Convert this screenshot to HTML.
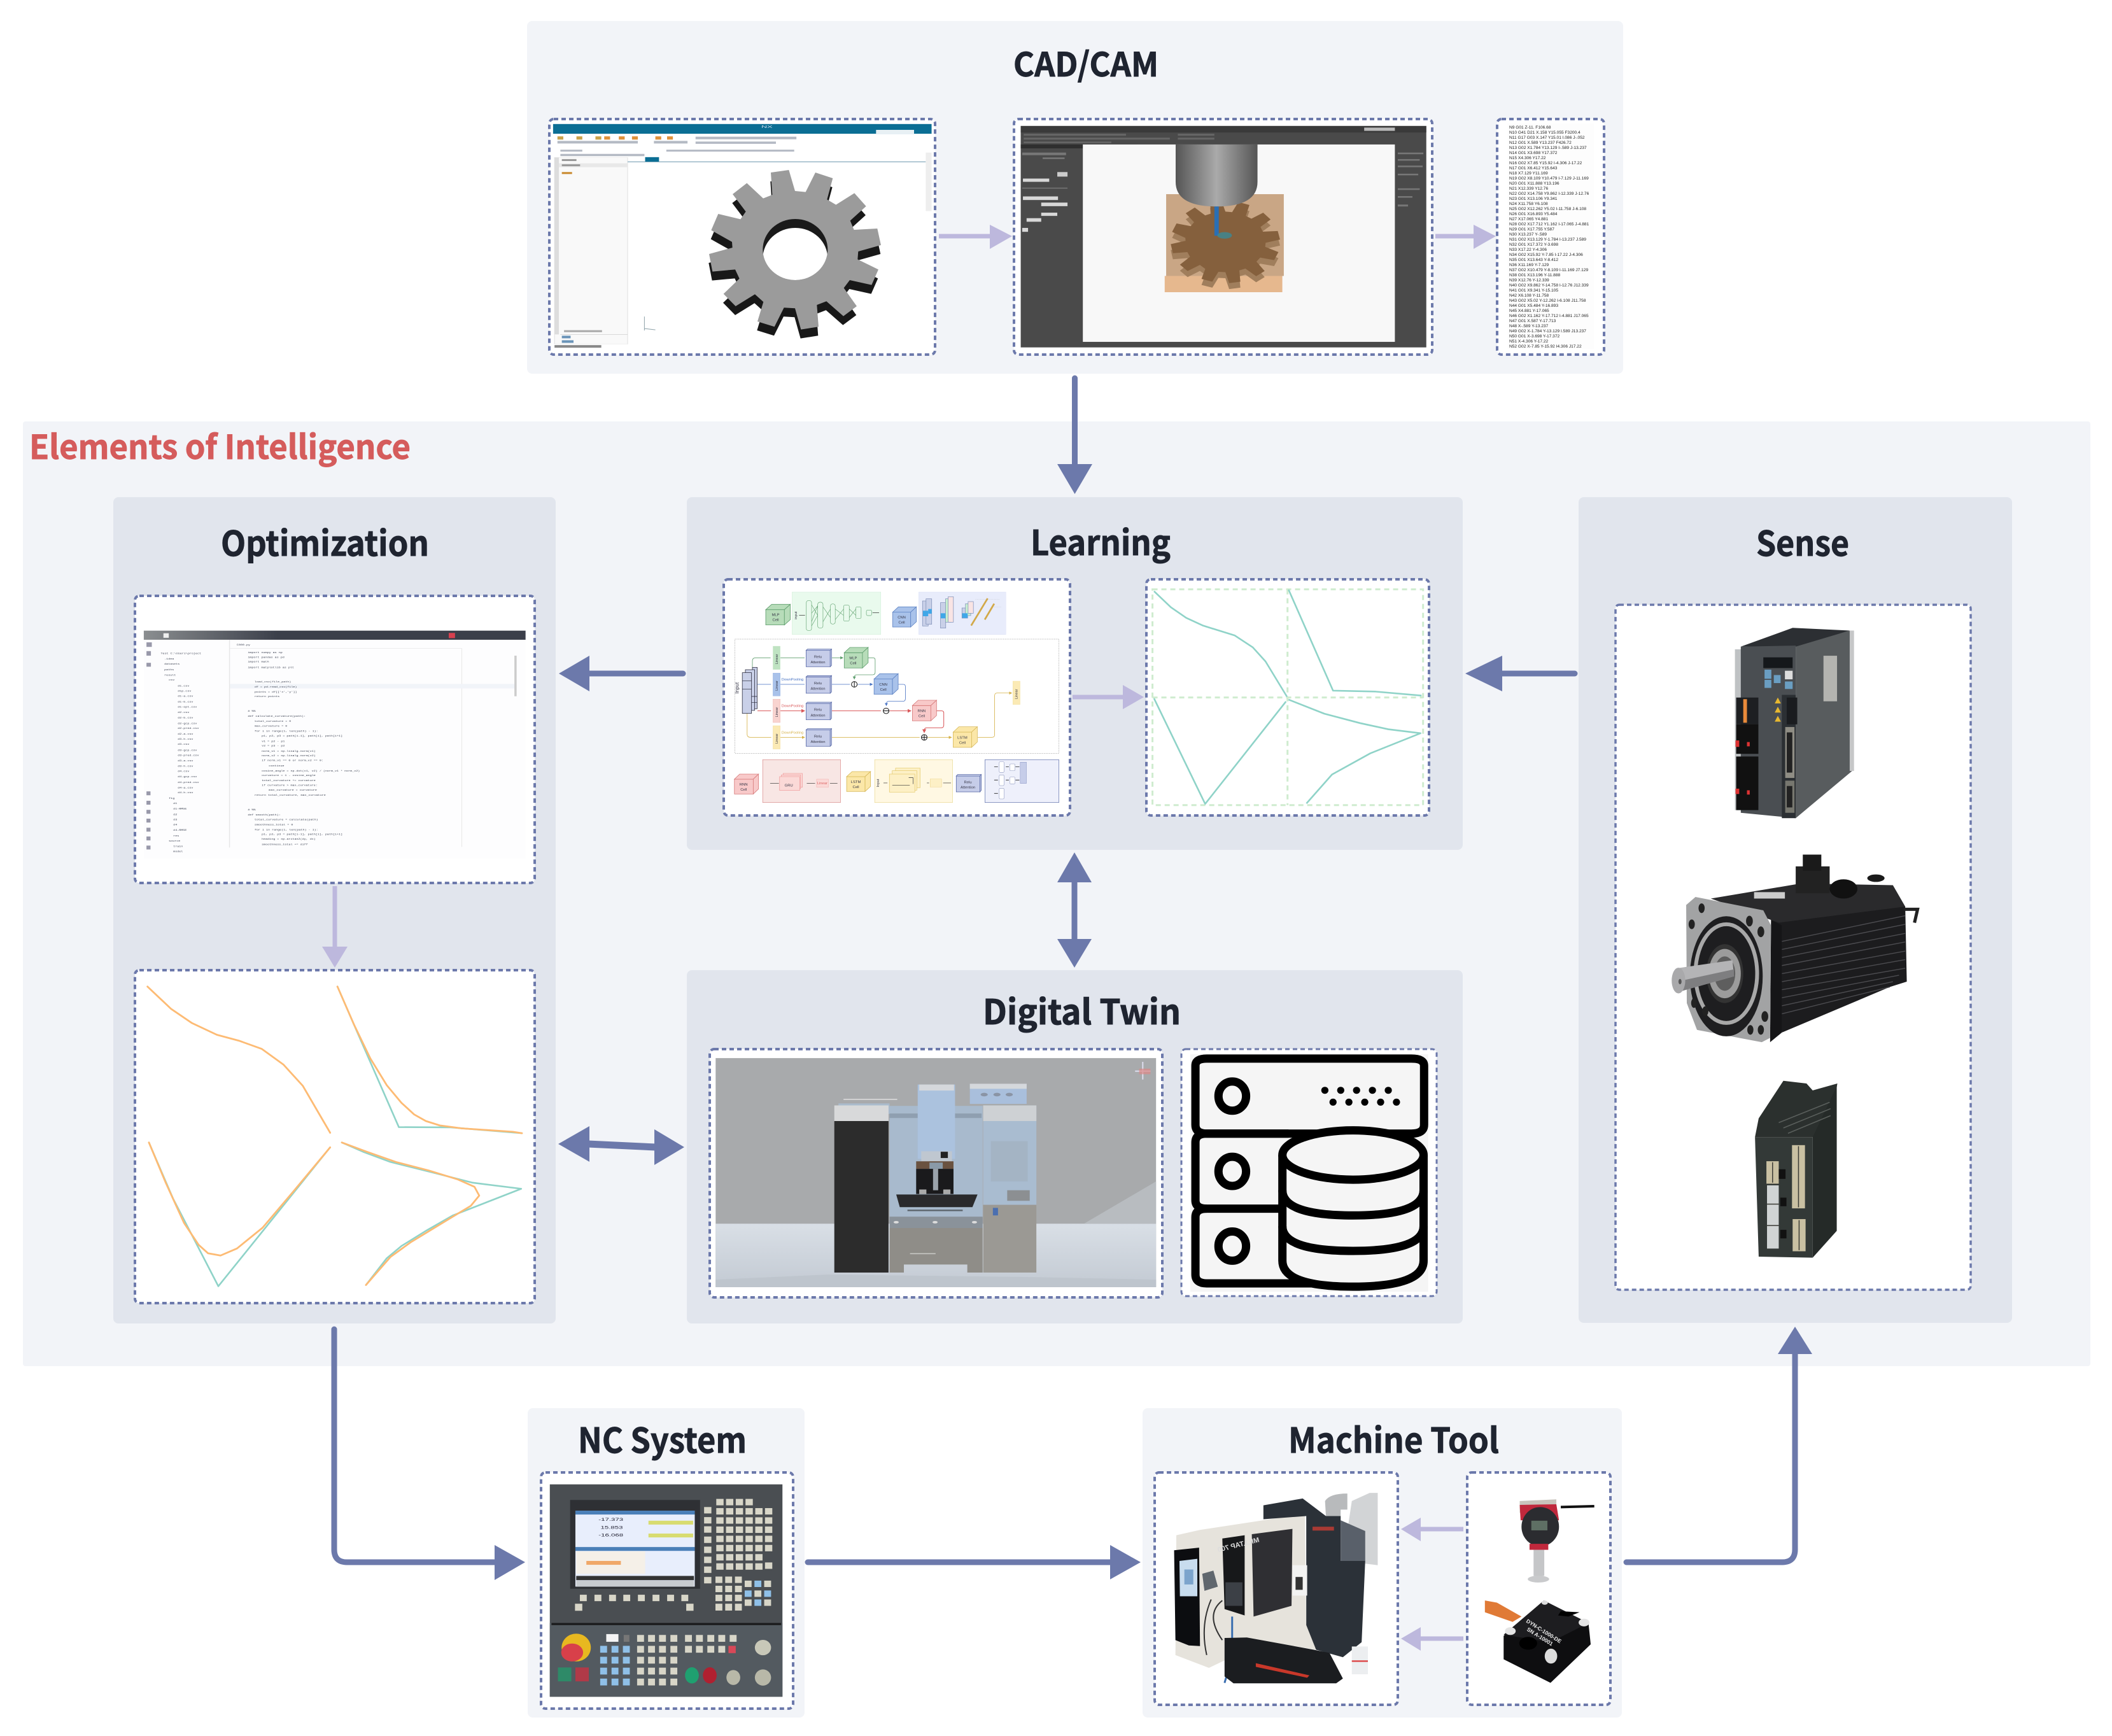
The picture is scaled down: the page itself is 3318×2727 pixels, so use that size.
<!DOCTYPE html>
<html><head><meta charset="utf-8"><title>Elements of Intelligence</title>
<style>
html,body{margin:0;padding:0;background:#fff}
svg{display:block}
.t{font-family:"Noto Sans CJK SC","Liberation Sans",sans-serif;font-weight:700;fill:#1f2430;stroke:#1f2430;stroke-width:.9}
.d{fill:#fff;stroke:#6c79ab;stroke-width:4;stroke-dasharray:7 5}
.ns{vector-effect:non-scaling-stroke}
.g{font-family:"Liberation Sans",sans-serif;font-size:6.6px;fill:#222}
.c{font-family:"Liberation Mono",monospace;font-size:7.2px;fill:#3a4050}
.n{font-family:"Liberation Sans",sans-serif;font-size:17px;fill:#334;text-anchor:middle}
.a{stroke:#6c79ab;stroke-width:9;fill:none;stroke-linecap:round;stroke-linejoin:round}
.l{stroke:#bdb8dd;stroke-width:7;fill:none}
.af{fill:#6c79ab}.lf{fill:#bdb8dd}
</style></head><body>
<svg xmlns="http://www.w3.org/2000/svg" width="3318" height="2727" viewBox="0 0 3318 2727">
<defs>
<polygon id="gear" points="363,78 448,66 477,165 527,170 573,78 655,105 628,205 670,230 757,175 812,237 737,305 755,348 865,342 882,420 775,450 772,487 870,535 838,608 735,585 707,622 768,708 705,755 625,685 580,702 588,805 505,818 477,718 425,715 380,805 300,780 328,688 288,652 197,708 140,650 215,578 195,535 88,545 72,462 182,432 180,405 82,350 115,273 220,298 245,262 183,180 250,128 327,200 370,183"/>
<clipPath id="hole"><ellipse cx="478" cy="441" rx="153" ry="144"/></clipPath>
<linearGradient id="tool" x1="0" x2="1" y1="0" y2="0"><stop offset="0" stop-color="#555"/><stop offset=".5" stop-color="#aaa"/><stop offset="1" stop-color="#555"/></linearGradient>
<linearGradient id="floor" x1="0" x2="0" y1="0" y2="1"><stop offset="0" stop-color="#d9dfe6"/><stop offset="1" stop-color="#c3cad3"/></linearGradient>
<linearGradient id="bar" x1="0" x2="1" y1="0" y2="0"><stop offset="0" stop-color="#8b8e90"/><stop offset=".35" stop-color="#3b3f4a"/><stop offset="1" stop-color="#3b3f4a"/></linearGradient>
<marker id="mg" markerWidth="6" markerHeight="6" refX="5" refY="3" orient="auto"><path d="M0,0L6,3L0,6z" fill="#5f9e6e"/></marker>
<marker id="mb" markerWidth="6" markerHeight="6" refX="5" refY="3" orient="auto"><path d="M0,0L6,3L0,6z" fill="#4a74c4"/></marker>
<marker id="mr" markerWidth="6" markerHeight="6" refX="5" refY="3" orient="auto"><path d="M0,0L6,3L0,6z" fill="#d9585a"/></marker>
<marker id="my" markerWidth="6" markerHeight="6" refX="5" refY="3" orient="auto"><path d="M0,0L6,3L0,6z" fill="#d6b24a"/></marker>
</defs>
<rect width="3318" height="2727" fill="#fff"/>

<!-- Panels -->
<rect x="828" y="33" width="1722" height="554" rx="8" fill="#f2f4f8"/>
<rect x="36" y="662" width="3248" height="1484" rx="4" fill="#f2f4f8"/>
<rect x="178" y="781" width="695" height="1298" rx="8" fill="#e1e5ed"/>
<rect x="1079" y="781" width="1219" height="554" rx="8" fill="#e1e5ed"/>
<rect x="1079" y="1524" width="1219" height="555" rx="8" fill="#e1e5ed"/>
<rect x="2480" y="781" width="681" height="1297" rx="8" fill="#e1e5ed"/>
<rect x="829" y="2212" width="435" height="486" rx="8" fill="#f2f4f8"/>
<rect x="1795" y="2212" width="753" height="486" rx="8" fill="#f2f4f8"/>

<!-- Titles -->
<text class="t" x="1592" y="120" font-size="52" textLength="228" lengthAdjust="spacingAndGlyphs">CAD/CAM</text>
<text class="t" x="46" y="721" font-size="52" textLength="599" lengthAdjust="spacingAndGlyphs" style="fill:#d55c5c;stroke:#d55c5c">Elements of Intelligence</text>
<text class="t" x="347" y="873" font-size="54" textLength="327" lengthAdjust="spacingAndGlyphs">Optimization</text>
<text class="t" x="1619" y="872" font-size="54" textLength="220" lengthAdjust="spacingAndGlyphs">Learning</text>
<text class="t" x="1544" y="1609" font-size="54" textLength="311" lengthAdjust="spacingAndGlyphs">Digital Twin</text>
<text class="t" x="2759" y="873" font-size="54" textLength="146" lengthAdjust="spacingAndGlyphs">Sense</text>
<text class="t" x="908" y="2282" font-size="54" textLength="265" lengthAdjust="spacingAndGlyphs">NC System</text>
<text class="t" x="2024" y="2282" font-size="54" textLength="331" lengthAdjust="spacingAndGlyphs">Machine Tool</text>

<!-- Dashed boxes -->
<rect class="d" x="863" y="187" width="606" height="370" rx="7"/>
<rect class="d" x="1593" y="187" width="657" height="370" rx="7"/>
<rect class="d" x="2352" y="187" width="168" height="370" rx="7"/>
<rect class="d" x="212" y="936" width="628" height="451" rx="7"/>
<rect class="d" x="212" y="1524" width="628" height="523" rx="7"/>
<rect class="d" x="1137" y="910" width="544" height="371" rx="7"/>
<rect class="d" x="1801" y="910" width="444" height="371" rx="7"/>
<rect class="d" x="1115" y="1648" width="711" height="390" rx="7"/>
<rect class="d" x="1856" y="1648" width="401" height="388" rx="7" style="stroke-width:3"/>
<rect class="d" x="2538" y="950" width="558" height="1076" rx="6" style="stroke-width:3.5"/>
<rect class="d" x="850" y="2313" width="396" height="371" rx="7"/>
<rect class="d" x="1814" y="2313" width="382" height="365" rx="7"/>
<rect class="d" x="2305" y="2313" width="225" height="365" rx="7"/>

<!-- CAD screenshot -->
<g transform="translate(800,0) scale(1.148,.51)">
<rect x="60" y="382" width="518" height="30" fill="#0b6e94"/>
<rect x="502" y="400" width="52" height="12" fill="#e8f0f4"/>
<g fill="#c9a24a"><rect x="66" y="420" width="8" height="10"/><rect x="92" y="420" width="8" height="10"/><rect x="118" y="420" width="8" height="10"/></g>
<g fill="#e0913a"><rect x="130" y="420" width="8" height="10"/><rect x="150" y="420" width="8" height="10"/><rect x="168" y="420" width="8" height="10"/><rect x="200" y="420" width="8" height="10"/><rect x="216" y="420" width="8" height="10"/></g>
<g fill="#b4bac4"><rect x="66" y="434" width="110" height="8"/><rect x="198" y="434" width="46" height="8"/><rect x="255" y="421" width="138" height="8"/><rect x="255" y="436" width="110" height="7"/><rect x="70" y="461" width="30" height="6"/><rect x="215" y="461" width="175" height="6"/><rect x="70" y="474" width="115" height="7"/></g>
<rect x="62" y="485" width="100" height="575" fill="#f9f9f9" stroke="#e4e4e4"/>
<rect x="62" y="503" width="100" height="12" fill="#e8e8e8"/>
<rect x="62" y="485" width="6" height="545" fill="#ddd"/>
<rect x="72" y="490" width="20" height="6" fill="#999"/><rect x="72" y="506" width="25" height="6" fill="#999"/><rect x="72" y="530" width="14" height="6" fill="#c98a2e"/>
<rect x="162" y="497" width="408" height="3" fill="#9bb9c8"/>
<rect x="186" y="484" width="19" height="14" fill="#0b6e94"/>
<rect x="75" y="1017" width="52" height="6" fill="#aaa"/>
<rect x="70" y="1030" width="92" height="1" fill="#bbb"/>
<rect x="72" y="1034" width="12" height="8" fill="#6a94b8"/><rect x="72" y="1048" width="16" height="8" fill="#6a94b8"/>
<rect x="62" y="1063" width="64" height="8" fill="#888"/>
<rect x="570" y="470" width="8" height="180" fill="#eee"/>
<path class="ns" d="M185,975V1018M185,1012L200,1016" stroke="#8ca0a8" stroke-width="1" fill="none"/>
<text x="345" y="394" font-size="11" fill="#cde" font-family="Liberation Sans,sans-serif">NX</text>
</g>
<g transform="translate(1090,245) scale(.3333)">
<use href="#gear" transform="translate(-2,42)" fill="#181818"/>
<use href="#gear" fill="#9b9b9b"/>
<ellipse cx="478" cy="441" rx="153" ry="144" fill="#1a1a1a"/>
<ellipse cx="478" cy="483" rx="153" ry="144" fill="#fff" clip-path="url(#hole)"/>
</g>

<!-- CAM screenshot -->
<g transform="translate(800,0) scale(1.148,.51)">
<rect x="700" y="388" width="555" height="682" fill="#4a4a4a"/>
<rect x="700" y="388" width="555" height="20" fill="#3a3a3a"/>
<rect x="700" y="445" width="160" height="12" fill="#2f2f2f"/>
<rect x="1170" y="393" width="42" height="10" fill="#bbb"/>
<g fill="#666"><rect x="704" y="412" width="140" height="6"/><rect x="704" y="424" width="200" height="6"/><rect x="704" y="436" width="120" height="5"/><rect x="915" y="412" width="50" height="6"/><rect x="915" y="424" width="50" height="6"/></g>
<rect x="785" y="445" width="427" height="608" fill="#f8f8f8"/>
<g fill="#777"><rect x="702" y="470" width="60" height="8"/><rect x="702" y="578" width="62" height="3"/><rect x="730" y="485" width="30" height="5"/><rect x="750" y="530" width="14" height="14" fill="#ccc"/></g>
<g fill="#d8d8d8"><rect x="703" y="550" width="36" height="10"/><rect x="703" y="605" width="48" height="11"/><rect x="728" y="624" width="36" height="11"/><rect x="728" y="655" width="22" height="10"/><rect x="708" y="672" width="20" height="11"/><rect x="702" y="702" width="8" height="12"/></g>
<g fill="#777"><rect x="1216" y="470" width="35" height="5"/><rect x="1216" y="490" width="30" height="5"/><rect x="1216" y="510" width="34" height="5"/><rect x="1216" y="535" width="28" height="5"/><rect x="1216" y="580" width="30" height="5"/><rect x="1216" y="604" width="20" height="5"/><rect x="1216" y="630" width="14" height="6"/></g>
<rect x="899" y="598" width="161" height="252" fill="#c9a685"/>
<rect x="897" y="850" width="161" height="50" fill="#e6b88e"/>
</g>
<g transform="translate(1824,304) scale(.212,.172)">
<use href="#gear" transform="translate(0,55)" fill="#a07e5c"/>
<use href="#gear" fill="#85603d"/>
</g>
<g transform="translate(800,0) scale(1.148,.51)">
<path d="M912,445H1024V560Q1024,636 968,636Q912,636 912,560Z" fill="url(#tool)"/>
<rect x="965" y="636" width="6" height="90" fill="#2a6fb5"/>
<circle cx="979" cy="725" r="10" fill="#3a8a96" opacity=".8"/>
</g>

<!-- G code -->
<rect x="2368" y="194" width="136" height="354" fill="#fdfdfd"/>
<g class="g">
<text x="2371" y="202">N9 G01 Z-11. F106.68</text>
<text x="2371" y="210">N10 G41 D21 X.158 Y15.055 F3200.4</text>
<text x="2371" y="218">N11 G17 G03 X.147 Y15.01 I.086 J-.052</text>
<text x="2371" y="226">N12 G01 X.589 Y13.237 F426.72</text>
<text x="2371" y="234">N13 G02 X1.784 Y13.129 I-.589 J-13.237</text>
<text x="2371" y="242">N14 G01 X3.698 Y17.372</text>
<text x="2371" y="250">N15 X4.306 Y17.22</text>
<text x="2371" y="258">N16 G02 X7.85 Y15.92 I-4.306 J-17.22</text>
<text x="2371" y="266">N17 G01 X6.412 Y15.643</text>
<text x="2371" y="274">N18 X7.129 Y11.169</text>
<text x="2371" y="282">N19 G02 X8.109 Y10.479 I-7.129 J-11.169</text>
<text x="2371" y="290">N20 G01 X11.888 Y13.196</text>
<text x="2371" y="298">N21 X12.339 Y12.76</text>
<text x="2371" y="306">N22 G02 X14.758 Y9.862 I-12.339 J-12.76</text>
<text x="2371" y="314">N23 G01 X13.106 Y9.341</text>
<text x="2371" y="322">N24 X11.758 Y6.108</text>
<text x="2371" y="330">N25 G02 X12.262 Y5.02 I-11.758 J-6.108</text>
<text x="2371" y="338">N26 G01 X16.893 Y5.484</text>
<text x="2371" y="346">N27 X17.065 Y4.881</text>
<text x="2371" y="354">N28 G02 X17.712 Y1.162 I-17.065 J-4.881</text>
<text x="2371" y="362">N29 G01 X17.755 Y.587</text>
<text x="2371" y="370">N30 X13.237 Y-.589</text>
<text x="2371" y="378">N31 G02 X13.129 Y-1.784 I-13.237 J.589</text>
<text x="2371" y="386">N32 G01 X17.372 Y-3.698</text>
<text x="2371" y="394">N33 X17.22 Y-4.306</text>
<text x="2371" y="402">N34 G02 X15.92 Y-7.85 I-17.22 J-4.306</text>
<text x="2371" y="410">N35 G01 X13.643 Y-8.412</text>
<text x="2371" y="418">N36 X11.169 Y-7.129</text>
<text x="2371" y="426">N37 G02 X10.479 Y-8.109 I-11.169 J7.129</text>
<text x="2371" y="434">N38 G01 X13.196 Y-11.888</text>
<text x="2371" y="442">N39 X12.76 Y-12.339</text>
<text x="2371" y="450">N40 G02 X9.862 Y-14.758 I-12.76 J12.339</text>
<text x="2371" y="458">N41 G01 X9.341 Y-15.105</text>
<text x="2371" y="466">N42 X6.108 Y-11.758</text>
<text x="2371" y="474">N43 G02 X5.02 Y-12.262 I-6.108 J11.758</text>
<text x="2371" y="482">N44 G01 X5.484 Y-16.893</text>
<text x="2371" y="490">N45 X4.881 Y-17.065</text>
<text x="2371" y="498">N46 G02 X1.162 Y-17.712 I-4.881 J17.065</text>
<text x="2371" y="506">N47 G01 X.587 Y-17.713</text>
<text x="2371" y="514">N48 X-.589 Y-13.237</text>
<text x="2371" y="522">N49 G02 X-1.784 Y-13.129 I.589 J13.237</text>
<text x="2371" y="530">N50 G01 X-3.698 Y-17.372</text>
<text x="2371" y="538">N51 X-4.306 Y-17.22</text>
<text x="2371" y="546">N52 G02 X-7.85 Y-15.92 I4.306 J17.22</text>
</g>

<!-- IDE screenshot -->
<g transform="translate(0,650) scale(.7015,.51)">
<rect x="322" y="668" width="855" height="702" fill="#fdfdfe"/>
<rect x="322" y="668" width="855" height="28" fill="url(#bar)"/>
<rect x="366" y="676" width="12" height="14" fill="#eee"/>
<rect x="1005" y="675" width="14" height="16" fill="#d8404f"/>
<rect x="515" y="722" width="520" height="1" fill="#ddd"/><rect x="1034" y="724" width="1" height="610" fill="#ddd"/>
<rect x="515" y="832" width="640" height="14" fill="#f1f4f9"/>
<rect x="1152" y="745" width="5" height="125" fill="#ccc"/>
<rect x="513" y="696" width="2" height="640" fill="#e6e6e6"/>
<g fill="#99a">
<rect x="328" y="704" width="12" height="14"/><rect x="328" y="731" width="10" height="14"/><rect x="328" y="767" width="10" height="12"/><rect x="328" y="1163" width="9" height="12"/><rect x="328" y="1192" width="9" height="12"/><rect x="328" y="1220" width="9" height="12"/><rect x="328" y="1247" width="9" height="12"/><rect x="328" y="1275" width="9" height="12"/><rect x="328" y="1302" width="9" height="12"/><rect x="328" y="1330" width="9" height="12"/>
</g>
<g class="c">
<text x="360" y="740">Test C:\Users\project</text><text x="368" y="757">.idea</text><text x="368" y="773">datasets</text><text x="368" y="790">paths</text><text x="368" y="807">result</text><text x="378" y="822">csv</text>
<text x="398" y="840">d1.csv</text><text x="398" y="856">d1p.csv</text><text x="398" y="872">d1-a.csv</text><text x="398" y="889">d1-b.csv</text><text x="398" y="905">d1-opt.csv</text><text x="398" y="922">d2.csv</text><text x="398" y="938">d2-b.csv</text><text x="398" y="956">d2-gcp.csv</text><text x="398" y="971">d2-pred.csv</text><text x="398" y="988">d2-a.csv</text><text x="398" y="1004">d3-h.csv</text><text x="398" y="1020">d3.csv</text><text x="398" y="1038">d3-gcp.csv</text><text x="398" y="1054">d3-pred.csv</text><text x="398" y="1071">d3-a.csv</text><text x="398" y="1087">d3-h.csv</text><text x="398" y="1103">d4.csv</text><text x="398" y="1120">d4-gcp.csv</text><text x="398" y="1137">d4-pred.csv</text><text x="398" y="1154">d4-a.csv</text><text x="398" y="1169">d4-h.csv</text>
<text x="378" y="1186">fig</text><text x="388" y="1202">d1</text><text x="388" y="1219">d1-RMSE</text><text x="388" y="1236">d2</text><text x="388" y="1252">d3</text><text x="388" y="1268">d4</text><text x="388" y="1284">d4-RMSE</text><text x="388" y="1302">res</text><text x="378" y="1318">source</text><text x="388" y="1334">train</text><text x="388" y="1350">model</text>
<text x="530" y="714">C000.py</text>
<text x="555" y="737">import numpy as np</text><text x="555" y="752">import pandas as pd</text><text x="555" y="766">import math</text><text x="555" y="783">import matplotlib as plt</text>
<text x="570" y="827">load_csv(file_path)</text><text x="570" y="843">df = pd.read_csv(file)</text><text x="570" y="859">points = df[['x','y']]</text><text x="570" y="873">return points</text>
<text x="555" y="918"># %%</text><text x="555" y="933">def calculate_curvature(path):</text><text x="570" y="949">total_curvature = 0</text><text x="570" y="964">max_curvature = 0</text><text x="570" y="979">for i in range(1, len(path) - 1):</text><text x="586" y="994">p1, p2, p3 = path[i-1], path[i], path[i+1]</text><text x="586" y="1011">v1 = p2 - p1</text><text x="586" y="1025">v2 = p3 - p2</text><text x="586" y="1041">norm_v1 = np.linalg.norm(v1)</text><text x="586" y="1055">norm_v2 = np.linalg.norm(v2)</text><text x="586" y="1070">if norm_v1 == 0 or norm_v2 == 0:</text><text x="602" y="1086">continue</text><text x="586" y="1102">cosine_angle = np.dot(v1, v2) / (norm_v1 * norm_v2)</text><text x="586" y="1116">curvature = 1 - cosine_angle</text><text x="586" y="1131">total_curvature += curvature</text><text x="586" y="1146">if curvature &gt; max_curvature:</text><text x="602" y="1161">max_curvature = curvature</text><text x="570" y="1176">return total_curvature, max_curvature</text>
<text x="555" y="1222"># %%</text><text x="555" y="1237">def smooth(path):</text><text x="570" y="1252">total_curvature = calculate(path)</text><text x="570" y="1268">smoothness_total = 0</text><text x="570" y="1283">for i in range(1, len(path) - 1):</text><text x="586" y="1297">p1, p2, p3 = path[i-1], path[i], path[i+1]</text><text x="586" y="1312">heading = np.arctan2(dy, dx)</text><text x="586" y="1328">smoothness_total += diff</text>
</g>
</g>

<!-- Optimized path chart -->
<g transform="translate(180,1500) scale(.574,.3827)" fill="none" stroke-linejoin="round" stroke-linecap="round">
<g stroke="#8fd3c8" stroke-width="2.6">
<polyline class="ns" points="610,130 665,320 778,707 920,708 1115,732"/>
<polyline class="ns" points="94,770 160,1000 284,1360 590,790"/>
<polyline class="ns" points="622,770 680,808 755,850 870,893 980,935 1113,960 925,1070 855,1130 785,1195 745,1245 688,1355"/>
</g>
<g stroke="#fdbb74" stroke-width="2.8">
<polyline class="ns" points="90,130 155,222 212,280 280,328 340,352 403,386 462,450 515,537 590,730"/>
<polyline class="ns" points="610,130 655,285 700,425 745,535 785,607 820,655 852,682 890,700 950,712 1090,726 1115,732"/>
<polyline class="ns" points="94,770 140,935 190,1100 230,1190 256,1225 290,1234 335,1205 405,1120 490,970 590,790"/>
<polyline class="ns" points="622,770 690,808 770,850 860,885 940,922 985,952 998,988 975,1030 925,1075 810,1180 755,1240 688,1355"/>
</g>
</g>

<!-- Learning chart -->
<g transform="translate(1060,780) scale(.8036,.37)" fill="none">
<g stroke="#cfeccf" stroke-width="3" stroke-dasharray="8 6">
<rect class="ns" x="934" y="394" width="529" height="916"/>
<line class="ns" x1="1198" y1="394" x2="1198" y2="1310"/>
<line class="ns" x1="934" y1="853" x2="1463" y2="853"/>
</g>
<g stroke="#8fd3c8" stroke-width="2.6" stroke-linejoin="round">
<polyline class="ns" points="937,402 970,470 1000,515 1033,548 1095,590 1130,640 1155,700 1197,850"/>
<polyline class="ns" points="1200,395 1287,824 1370,828 1460,845"/>
<polyline class="ns" points="937,857 1037,1305 1195,870"/>
<polyline class="ns" points="1200,862 1270,922 1340,962 1395,988 1458,1005 1360,1090 1285,1180 1235,1303"/>
</g>
</g>

<!-- Network diagram -->
<g transform="translate(1140,920) scale(.3444,.3333)">
<rect x="303" y="30" width="405" height="200" fill="#e9faed" stroke="#bfe6c8"/>
<rect x="881" y="30" width="397" height="200" fill="#e8ecfb" stroke="#cdd4f2"/>
<g fill="none" stroke="#6aa878" stroke-width="2">
<rect x="368" y="70" width="24" height="142" rx="10"/><rect x="420" y="78" width="24" height="122" rx="10"/><rect x="478" y="86" width="22" height="95" rx="10"/><rect x="538" y="92" width="26" height="75" rx="6"/><rect x="594" y="100" width="24" height="55" rx="6"/><rect x="642" y="115" width="24" height="26" rx="6"/>
<path d="M392,90L420,140L392,190M392,130L420,95L392,170M444,100L478,150M444,170L478,110M500,110L538,140M500,160L538,110M564,110L594,140M564,150L594,110"/>
</g>
<path d="M335,140H362M670,127H700" stroke="#111" stroke-width="2" fill="none"/>
<text class="n" x="325" y="140" transform="rotate(-90 325 140)">input</text>
<g fill="none" stroke="#7a8bb4" stroke-width="2">
<rect x="898" y="72" width="26" height="118" fill="#c9d0e8"/><rect x="914" y="62" width="26" height="120" fill="#c9d0e8"/>
<rect x="980" y="80" width="24" height="120" fill="#c9d0e8"/><rect x="1003" y="62" width="26" height="110" fill="#c9f0d0"/><rect x="1015" y="52" width="24" height="120" fill="#f9e4e4"/>
<rect x="1078" y="105" width="26" height="48" fill="#c9d0e8"/><rect x="1094" y="85" width="24" height="56" fill="#c9f0d0"/><rect x="1106" y="75" width="24" height="55" fill="#f9e4e4"/>
</g>
<g fill="#3fa7e8"><rect x="900" y="118" width="24" height="26"/><rect x="924" y="110" width="16" height="22"/><rect x="981" y="130" width="22" height="24"/><rect x="1079" y="130" width="25" height="22"/></g>
<path d="M1120,188L1195,60M1182,160L1225,85" stroke="#d2a94a" stroke-width="8"/>
<path d="M1140,65H1250M1225,100L1260,100" stroke="#aaa" stroke-dasharray="3 4" fill="none"/>

<rect x="42" y="252" width="1478" height="538" fill="#fff" stroke="#666" stroke-width="1.4" stroke-dasharray="4 4"/>

<g stroke-width="2.4" fill="none">
<path d="M122,385V355Q122,340 137,340H205M250,340H360M485,340H535" stroke="#5f9e6e" marker-end="url(#mg)"/>
<path d="M650,340H672Q682,340 682,350V408Q682,420 670,420H598Q587,420 587,432V440" stroke="#5f9e6e" marker-end="url(#mg)"/>
<path d="M145,465H207M250,465H360M485,465H567M603,465H670" stroke="#4a74c4" marker-end="url(#mb)"/>
<path d="M786,465H810Q820,465 820,475V533Q820,545 808,545H745Q733,545 733,557V565" stroke="#4a74c4" marker-end="url(#mb)"/>
<path d="M145,590H207M250,590H360" stroke="#d9585a" stroke-width="3" marker-end="url(#mr)"/>
<path d="M485,590H708M748,590H845" stroke="#d9585a" stroke-width="3" marker-end="url(#mr)"/>
<path d="M960,590H985Q995,590 995,600V658Q995,670 983,670H918Q906,670 906,682V692" stroke="#d9585a" stroke-width="3" marker-end="url(#mr)"/>
<path d="M98,603V700Q98,715 113,715H208M250,715H360" stroke="#d6b24a" marker-end="url(#my)"/>
<path d="M485,715H885M922,715H1030" stroke="#d6b24a" marker-end="url(#my)"/>
<path d="M1150,715H1215Q1227,715 1227,703V518Q1227,506 1239,506H1305" stroke="#d6b24a" marker-end="url(#my)"/>
</g>
<g stroke="#111" stroke-width="3" fill="#fff">
<circle cx="587" cy="465" r="13"/><circle cx="732" cy="590" r="13"/><circle cx="906" cy="715" r="13"/>
<path d="M587,452V478M719,590H745M893,715H919M906,702V728" fill="none"/>
</g>
<g stroke="#223" stroke-width="2.2"><rect x="122" y="385" width="22" height="195" fill="#c9d0e8"/><rect x="90" y="396" width="42" height="192" fill="#c9d0e8"/><rect x="76" y="410" width="42" height="192" fill="#c9d0e8"/><path d="M76,448H118M76,487H118M118,522H144M118,550H144" fill="none"/></g>
<text class="n" x="60" y="482" style="font-size:24px" transform="rotate(-90 60 482)">Input</text>
<rect x="216" y="285" width="33" height="110" fill="#bfe3c2" stroke="#cfeacf"/>
<rect x="216" y="412" width="33" height="108" fill="#a9c2ea" stroke="#88a8dd"/>
<rect x="216" y="535" width="33" height="110" fill="#f9d4d0" stroke="#e8a8a4"/>
<rect x="216" y="660" width="33" height="110" fill="#fbeab5" stroke="#eedb90"/>
<rect x="1310" y="450" width="33" height="110" fill="#fbeab5" stroke="#eedb90"/>
<g class="n"><text x="232" y="340" transform="rotate(-90 238 340)">Linear</text><text x="232" y="465" transform="rotate(-90 238 465)">Linear</text><text x="232" y="590" transform="rotate(-90 238 590)">Linear</text><text x="232" y="715" transform="rotate(-90 238 715)">Linear</text><text x="1326" y="505" transform="rotate(-90 1332 505)">Linear</text></g>
<text class="n" x="305" y="447" style="fill:#4a74c4">DownPooling</text><text class="n" x="305" y="572" style="fill:#d9585a">DownPooling</text><text class="n" x="305" y="697" style="fill:#d6b24a">DownPooling</text>
<!-- relu blocks -->
<g fill="#c6cde9" stroke="#5a6ba8" stroke-width="2.4">
<rect x="367" y="305" width="110" height="77"/><polygon points="367,305 373,299 483,299 477,305"/><polygon points="477,305 483,299 483,376 477,382"/>
<rect x="367" y="430" width="110" height="77"/><polygon points="367,430 373,424 483,424 477,430"/><polygon points="477,430 483,424 483,501 477,507"/>
<rect x="367" y="555" width="110" height="77"/><polygon points="367,555 373,549 483,549 477,555"/><polygon points="477,555 483,549 483,626 477,632"/>
<rect x="367" y="680" width="110" height="77"/><polygon points="367,680 373,674 483,674 477,680"/><polygon points="477,680 483,674 483,751 477,757"/>
<rect x="1052" y="897" width="108" height="75"/><polygon points="1052,897 1058,890 1166,890 1160,897"/><polygon points="1160,897 1166,890 1166,965 1160,972"/>
</g>
<g class="n"><text x="421" y="340">Relu</text><text x="421" y="366">Attention</text><text x="421" y="465">Relu</text><text x="421" y="491">Attention</text><text x="421" y="590">Relu</text><text x="421" y="616">Attention</text><text x="421" y="715">Relu</text><text x="421" y="741">Attention</text><text x="1105" y="931">Relu</text><text x="1105" y="956">Attention</text></g>
<!-- cubes -->
<g fill="#b7dcb9" stroke="#5f9e6e" stroke-width="2.4">
<rect x="183" y="113" width="85" height="72"/><polygon points="183,113 210,88 295,88 268,113"/><polygon points="268,113 295,88 295,160 268,185"/>
<rect x="541" y="316" width="83" height="72"/><polygon points="541,316 567,291 650,291 624,316"/><polygon points="624,316 650,291 650,363 624,388"/>
</g>
<g fill="#a9c2ea" stroke="#5f84c4" stroke-width="2.4">
<rect x="762" y="125" width="82" height="70"/><polygon points="762,125 788,100 870,100 844,125"/><polygon points="844,125 870,100 870,170 844,195"/>
<rect x="677" y="440" width="84" height="72"/><polygon points="677,440 703,415 787,415 761,440"/><polygon points="761,440 787,415 787,487 761,512"/>
</g>
<g fill="#f8c9c9" stroke="#d77a7a" stroke-width="2.4">
<rect x="852" y="565" width="84" height="72"/><polygon points="852,565 878,540 962,540 936,565"/><polygon points="936,565 962,540 962,612 936,637"/>
<rect x="40" y="912" width="86" height="70"/><polygon points="40,912 64,888 150,888 126,912"/><polygon points="126,912 150,888 150,958 126,982"/>
</g>
<g fill="#fbe7a8" stroke="#d7b95a" stroke-width="2.4">
<rect x="1038" y="690" width="84" height="72"/><polygon points="1038,690 1064,665 1148,665 1122,690"/><polygon points="1122,690 1148,665 1148,737 1122,762"/>
<rect x="552" y="900" width="84" height="70"/><polygon points="552,900 577,876 661,876 636,900"/><polygon points="636,900 661,876 661,946 636,970"/>
</g>
<g class="n"><text x="228" y="142">MLP</text><text x="228" y="167">Cell</text><text x="803" y="155">CNN</text><text x="803" y="179">Cell</text><text x="582" y="346">MLP</text><text x="582" y="371">Cell</text><text x="719" y="471">CNN</text><text x="719" y="495">Cell</text><text x="894" y="596">RNN</text><text x="894" y="620">Cell</text><text x="1080" y="722">LSTM</text><text x="1080" y="746">Cell</text><text x="82" y="942">RNN</text><text x="82" y="966">Cell</text><text x="594" y="930">LSTM</text><text x="594" y="954">Cell</text></g>
<!-- bottom panels -->
<rect x="169" y="820" width="355" height="202" fill="#f8e6e4" stroke="#d88a88" stroke-width="2"/>
<rect x="680" y="820" width="355" height="202" fill="#fff8e3" stroke="#e8d890" stroke-width="2"/>
<rect x="1183" y="820" width="337" height="202" fill="#eef0fb" stroke="#5a6ba8" stroke-width="2"/>
<g fill="#fbd9d7" stroke="#e99" stroke-width="2"><rect x="262" y="885" width="88" height="65"/><rect x="254" y="892" width="88" height="65"/><rect x="246" y="900" width="92" height="65"/></g>
<text class="n" x="288" y="947">GRU</text>
<rect x="415" y="912" width="54" height="38" fill="#fbd9d7" stroke="#e99"/><text class="n" x="441" y="936" style="fill:#d66">Linear</text>
<path d="M203,931H243M370,931H408M476,931H510" stroke="#222" stroke-width="2" fill="none"/>
<g fill="#fdf0c6" stroke="#e3c766" stroke-width="2"><rect x="775" y="860" width="112" height="92"/><rect x="760" y="872" width="112" height="92"/><rect x="747" y="888" width="116" height="85"/></g>
<path d="M760,940H840M835,905H855V935" stroke="#333" stroke-width="2" fill="none"/>
<rect x="933" y="911" width="52" height="38" fill="#fdf0c6" stroke="#e3c766"/>
<path d="M720,930H738M918,930H928M992,930H1028" stroke="#222" stroke-width="2" fill="none"/>
<text class="n" x="700" y="930" transform="rotate(-90 700 930)">Input</text>
<g fill="#fff" stroke="#8a94bc" stroke-width="1.6"><rect x="1248" y="830" width="22" height="50" rx="5"/><rect x="1248" y="892" width="22" height="50" rx="5"/><rect x="1248" y="955" width="22" height="50" rx="5"/><rect x="1296" y="840" width="24" height="32" rx="5"/><rect x="1296" y="902" width="24" height="32" rx="5"/></g>
<rect x="1344" y="832" width="28" height="100" fill="#c6cde9" stroke="#5a6ba8"/>
<path d="M1225,854H1242M1278,854H1292M1322,854H1340M1225,916H1242M1278,916H1292M1322,916H1340M1225,979H1242" stroke="#222" stroke-width="2.4" fill="none"/>
</g>

<!-- Digital twin scene -->
<g transform="translate(1060,1500) scale(.8036,.3954)">
<rect x="80" y="410" width="861" height="910" fill="#a8aaac"/>
<rect x="80" y="1068" width="861" height="252" fill="url(#floor)"/>
<polygon points="800,1068 941,900 941,1068" fill="#b8bcc0"/>
<polygon points="80,1320 80,1290 300,1270 700,1280 941,1290 941,1320" fill="#bec5cd"/>
<rect x="420" y="600" width="182" height="445" fill="#a8bacd"/>
<rect x="420" y="630" width="180" height="18" fill="#8f9fb0"/>
<rect x="475" y="515" width="73" height="295" fill="#abc2de"/>
<rect x="478" y="515" width="68" height="24" fill="#d5d8dc"/>
<rect x="577" y="512" width="111" height="80" fill="#a9bfdc"/>
<rect x="577" y="512" width="111" height="20" fill="#d5d8dc"/>
<g fill="#8a94a5"><circle cx="605" cy="555" r="7"/><circle cx="630" cy="555" r="7"/><circle cx="654" cy="555" r="7"/></g>
<rect x="330" y="572" width="105" height="4" fill="#ddd"/>
<rect x="320" y="590" width="100" height="42" fill="#aabbcc"/>
<rect x="482" y="780" width="60" height="50" fill="#bfc7d0"/><rect x="520" y="782" width="14" height="25" fill="#222"/>
<rect x="472" y="820" width="73" height="30" fill="#6a5240"/>
<rect x="498" y="825" width="26" height="30" fill="#8a9aa8"/>
<rect x="472" y="850" width="73" height="100" fill="#1a1a1c"/>
<rect x="505" y="850" width="10" height="85" fill="#9aa2aa"/>
<rect x="478" y="932" width="14" height="18" fill="#aaa"/><rect x="525" y="932" width="14" height="18" fill="#aaa"/>
<polygon points="433,952 592,952 582,1002 440,1002" fill="#2a2a2c"/>
<rect x="455" y="1012" width="108" height="6" fill="#5c646c"/>
<rect x="420" y="1040" width="182" height="45" fill="#8a929a"/>
<g fill="#ddd"><circle cx="433" cy="1062" r="5"/><circle cx="509" cy="1062" r="5"/><circle cx="586" cy="1062" r="5"/></g>
<polygon points="420,1085 602,1085 602,1262 572,1262 572,1230 448,1230 448,1262 420,1262" fill="#8f8d88"/>
<rect x="460" y="1185" width="50" height="4" fill="#c8c8c4"/>
<rect x="312" y="660" width="106" height="602" fill="#2c2c2c"/>
<rect x="312" y="598" width="106" height="62" fill="#d8d9da"/>
<rect x="603" y="598" width="104" height="395" fill="#a9bcd0"/>
<rect x="603" y="598" width="104" height="62" fill="#ced1d4"/>
<rect x="618" y="740" width="72" height="160" fill="#a4b4c4"/>
<rect x="650" y="935" width="44" height="42" fill="#8c8f92"/>
<rect x="603" y="993" width="104" height="269" fill="#9b9994"/>
<rect x="622" y="1005" width="10" height="30" fill="#4b6fb0"/>
<path class="ns" d="M915,425V495M900,462H930" stroke="#dde" stroke-width="2" fill="none"/>
<rect x="908" y="452" width="22" height="22" fill="#d88" opacity=".7"/>
</g>

<!-- DB icon -->
<g transform="translate(1060,1500) scale(.8036,.3954)">
<rect x="1008" y="395" width="465" height="943" fill="#f5f5f5"/>
<g fill="none" stroke="#000" stroke-width="13">
<path class="ns" d="M1040,412H1440Q1465,412 1465,440V675Q1465,710 1440,710H1040Q1018,710 1018,675V440Q1018,412 1040,412Z"/>
<path class="ns" d="M1040,710H1200M1040,710Q1018,710 1018,745V975Q1018,1008 1040,1008H1200"/>
<path class="ns" d="M1040,1008Q1018,1008 1018,1042V1270Q1018,1305 1040,1305H1260"/>
<ellipse class="ns" cx="1090" cy="561" rx="27" ry="58"/><ellipse class="ns" cx="1090" cy="860" rx="27" ry="58"/><ellipse class="ns" cx="1090" cy="1157" rx="27" ry="58"/>
</g>
<g fill="#000"><ellipse cx="1271" cy="538" rx="7" ry="14"/><ellipse cx="1302" cy="538" rx="7" ry="14"/><ellipse cx="1333" cy="538" rx="7" ry="14"/><ellipse cx="1364" cy="538" rx="7" ry="14"/><ellipse cx="1395" cy="538" rx="7" ry="14"/><ellipse cx="1287" cy="585" rx="7" ry="14"/><ellipse cx="1318" cy="585" rx="7" ry="14"/><ellipse cx="1349" cy="585" rx="7" ry="14"/><ellipse cx="1380" cy="585" rx="7" ry="14"/><ellipse cx="1411" cy="585" rx="7" ry="14"/></g>
<g stroke="#000" stroke-width="13" fill="#f5f5f5">
<path class="ns" d="M1188,795V1215Q1188,1318 1326,1318Q1464,1318 1464,1215V795"/>
<ellipse class="ns" cx="1326" cy="795" rx="138" ry="98"/>
<path class="ns" d="M1188,935Q1188,1035 1326,1035Q1464,1035 1464,935" fill="none"/>
<path class="ns" d="M1188,1078Q1188,1176 1326,1176Q1464,1176 1464,1078" fill="none"/>
</g>
</g>

<!-- Sense items -->
<g transform="translate(2460,780) scale(.4847,.842)">
<!-- drive -->
<polygon points="745,278 920,250 932,510 745,600" fill="#585c5e"/>
<polygon points="567,280 735,245 920,250 745,280" fill="#2c2f33"/>
<rect x="920" y="250" width="14" height="262" fill="#c6c7c8"/>
<rect x="548" y="285" width="20" height="300" fill="#bfc2c4"/>
<polygon points="567,280 745,278 745,600 567,590" fill="#4a4e52"/>
<rect x="700" y="370" width="45" height="230" fill="#2b2f33"/>
<rect x="640" y="300" width="95" height="20" fill="#15181b"/>
<rect x="644" y="323" width="22" height="17" fill="#6a9ec2"/><rect x="644" y="342" width="22" height="15" fill="#6a9ec2"/><rect x="674" y="333" width="22" height="15" fill="#6a9ec2"/><rect x="710" y="325" width="25" height="16" fill="#ddd"/><rect x="710" y="345" width="25" height="14" fill="#6a9ec2"/>
<rect x="552" y="375" width="72" height="50" fill="#1d1f22"/><rect x="575" y="378" width="12" height="44" fill="#e88a3a"/>
<rect x="552" y="425" width="72" height="55" fill="#111"/><rect x="552" y="485" width="72" height="100" fill="#111"/>
<rect x="550" y="455" width="12" height="12" fill="#d33"/><rect x="587" y="458" width="9" height="8" fill="#d33"/><rect x="550" y="545" width="12" height="10" fill="#d33"/><rect x="587" y="548" width="9" height="8" fill="#d33"/>
<g fill="#e8b830"><polygon points="687,375 697,386 677,386"/><polygon points="687,392 697,403 677,403"/><polygon points="687,409 697,420 677,420"/></g>
<rect x="716" y="375" width="34" height="50" fill="#1a1c1f"/>
<rect x="711" y="430" width="30" height="95" fill="#8f8d84"/><rect x="716" y="440" width="18" height="75" fill="#222"/>
<rect x="711" y="530" width="30" height="60" fill="#77776f"/><rect x="716" y="540" width="18" height="40" fill="#222"/>
<rect x="835" y="297" width="44" height="85" fill="#b4b4b0"/>
<!-- motor -->
<polygon points="665,790 990,740 1100,765 1105,905 1050,915 700,1000" fill="#1c1c1e"/>
<g stroke="#4c4c50" stroke-width="1.4"><line class="ns" x1="700" y1="830" x2="1100" y2="782"/><line class="ns" x1="700" y1="845" x2="1100" y2="798"/><line class="ns" x1="700" y1="860" x2="1100" y2="815"/><line class="ns" x1="700" y1="875" x2="1100" y2="831"/><line class="ns" x1="700" y1="890" x2="1100" y2="848"/><line class="ns" x1="700" y1="905" x2="1100" y2="864"/><line class="ns" x1="700" y1="920" x2="1100" y2="880"/><line class="ns" x1="700" y1="935" x2="1080" y2="893"/><line class="ns" x1="700" y1="950" x2="1060" y2="905"/><line class="ns" x1="700" y1="965" x2="1050" y2="915"/></g>
<polygon points="470,750 760,722 1060,725 1100,765 690,795" fill="#2a2a2c"/>
<rect x="745" y="690" width="110" height="50" fill="#222"/><rect x="768" y="668" width="60" height="30" fill="#1a1a1a"/>
<ellipse cx="900" cy="732" rx="45" ry="18" fill="#111"/>
<ellipse cx="1005" cy="712" rx="28" ry="7" fill="#1a1a1a"/>
<rect x="610" y="738" width="100" height="12" fill="#ccc"/>
<path d="M1095,770L1140,770L1130,795" stroke="#222" stroke-width="5" fill="none" class="ns"/>
<polygon points="665,790 700,800 700,1000 662,1018" fill="#151517"/>
<polygon points="390,762 420,747 640,772 665,800 662,1010 635,1018 425,995 392,945" fill="#a2a3a4"/>
<ellipse cx="520" cy="895" rx="118" ry="112" fill="#1e1e20"/>
<ellipse cx="520" cy="890" rx="100" ry="92" fill="none" stroke="#a8a8a8" stroke-width="6" class="ns"/>
<ellipse cx="515" cy="890" rx="60" ry="55" fill="#333"/>
<ellipse cx="515" cy="890" rx="52" ry="46" fill="#9c9c9c"/>
<ellipse cx="515" cy="890" rx="34" ry="32" fill="#5e5e5e"/>
<g fill="#222"><ellipse cx="408" cy="798" rx="10" ry="9"/><ellipse cx="440" cy="768" rx="10" ry="9"/><ellipse cx="595" cy="792" rx="11" ry="10"/><ellipse cx="632" cy="812" rx="11" ry="10"/><ellipse cx="645" cy="970" rx="11" ry="10"/><ellipse cx="632" cy="995" rx="10" ry="9"/><ellipse cx="598" cy="995" rx="10" ry="9"/><ellipse cx="452" cy="960" rx="10" ry="9"/><ellipse cx="415" cy="945" rx="9" ry="9"/></g>
<polygon points="360,880 540,865 545,895 360,925" fill="#b4b4b6"/><polygon points="360,905 545,882 545,895 360,925" fill="#7e7e80"/>
<ellipse cx="365" cy="903" rx="22" ry="24" fill="#a9a9ab"/><circle cx="370" cy="905" r="5" fill="#555"/>
<!-- drive 3 -->
<polygon points="625,1160 705,1090 780,1095 800,1108 880,1095 860,1165 800,1195 613,1195" fill="#2b302e"/>
<polygon points="800,1195 878,1100 878,1370 800,1420" fill="#252a28"/>
<polygon points="613,1195 800,1195 800,1420 625,1418" fill="#333937"/>
<g stroke="#5a5f5c" stroke-width="1.6"><line class="ns" x1="690" y1="1168" x2="855" y2="1130"/><line class="ns" x1="705" y1="1178" x2="858" y2="1142"/><line class="ns" x1="720" y1="1188" x2="858" y2="1155"/></g>
<rect x="733" y="1210" width="42" height="118" fill="#c9c0a2"/>
<rect x="735" y="1348" width="42" height="60" fill="#c9c0a2"/>
<rect x="650" y="1240" width="40" height="42" fill="#c9c0a2"/>
<rect x="652" y="1285" width="38" height="118" fill="#d0d4d4"/>
<g stroke="#3a3a34" stroke-width="1.5"><line class="ns" x1="754" y1="1212" x2="754" y2="1326"/><line class="ns" x1="756" y1="1350" x2="756" y2="1406"/><line class="ns" x1="670" y1="1242" x2="670" y2="1280"/><line class="ns" x1="652" y1="1320" x2="690" y2="1320"/><line class="ns" x1="652" y1="1360" x2="690" y2="1360"/></g>
<rect x="690" y="1255" width="22" height="18" fill="#111"/><rect x="695" y="1308" width="20" height="16" fill="#111"/><rect x="695" y="1368" width="20" height="16" fill="#111"/>
</g>

<!-- NC panel -->
<g transform="translate(800,2200) scale(.6378,.336)">
<rect x="100" y="392" width="573" height="993" fill="#4a4e52"/>
<rect x="100" y="1040" width="573" height="345" fill="#535a60"/>
<rect x="104" y="1040" width="566" height="10" fill="#1a1b1c"/>
<rect x="150" y="465" width="320" height="415" fill="#2e3034"/>
<rect x="163" y="515" width="294" height="355" fill="#e8eefc"/>
<rect x="163" y="515" width="294" height="18" fill="#4a7fb8"/>
<rect x="163" y="685" width="294" height="18" fill="#4a7fb8"/>
<rect x="165" y="705" width="170" height="105" fill="#f5f0e8"/>
<rect x="190" y="750" width="85" height="18" fill="#f0a868"/>
<rect x="343" y="562" width="110" height="18" fill="#d8dc70"/><rect x="343" y="622" width="110" height="18" fill="#d8dc70"/>
<rect x="165" y="820" width="290" height="20" fill="#333"/>
<rect x="165" y="842" width="290" height="28" fill="#c8ccd0"/>
<g font-family="Liberation Sans,sans-serif" font-size="18" fill="#223"><text x="220" y="562">-17.373</text><text x="225" y="600">15.853</text><text x="220" y="636">-16.068</text></g>
<g fill="#d8d6c8">
<rect x="510" y="460" width="18" height="30"/><rect x="534" y="460" width="18" height="30"/><rect x="558" y="460" width="18" height="30"/><rect x="582" y="460" width="18" height="30"/>
<rect x="480" y="498" width="18" height="30"/><rect x="480" y="545" width="18" height="30"/><rect x="480" y="588" width="18" height="30"/><rect x="480" y="636" width="18" height="30"/><rect x="480" y="683" width="18" height="30"/><rect x="480" y="730" width="18" height="30"/><rect x="480" y="776" width="18" height="30"/><rect x="480" y="825" width="18" height="30"/>
<rect x="510" y="503" width="18" height="30"/><rect x="534" y="503" width="18" height="30"/><rect x="558" y="503" width="18" height="30"/><rect x="582" y="503" width="18" height="30"/><rect x="606" y="503" width="18" height="30"/><rect x="630" y="503" width="18" height="30"/>
<rect x="510" y="546" width="18" height="30"/><rect x="534" y="546" width="18" height="30"/><rect x="558" y="546" width="18" height="30"/><rect x="582" y="546" width="18" height="30"/><rect x="606" y="546" width="18" height="30"/><rect x="630" y="546" width="18" height="30"/>
<rect x="510" y="589" width="18" height="30"/><rect x="534" y="589" width="18" height="30"/><rect x="558" y="589" width="18" height="30"/><rect x="582" y="589" width="18" height="30"/><rect x="606" y="589" width="18" height="30"/><rect x="630" y="589" width="18" height="30"/>
<rect x="510" y="632" width="18" height="30"/><rect x="534" y="632" width="18" height="30"/><rect x="558" y="632" width="18" height="30"/><rect x="582" y="632" width="18" height="30"/><rect x="606" y="632" width="18" height="30"/><rect x="630" y="632" width="18" height="30"/>
<rect x="510" y="675" width="18" height="30"/><rect x="534" y="675" width="18" height="30"/><rect x="558" y="675" width="18" height="30"/><rect x="582" y="675" width="18" height="30"/><rect x="606" y="675" width="18" height="30"/><rect x="630" y="675" width="18" height="30"/>
<rect x="510" y="718" width="18" height="30"/><rect x="534" y="718" width="18" height="30"/><rect x="558" y="718" width="18" height="30"/><rect x="582" y="718" width="18" height="30"/><rect x="606" y="718" width="18" height="30"/>
<rect x="510" y="761" width="18" height="30"/><rect x="534" y="761" width="18" height="30"/><rect x="558" y="761" width="18" height="30"/><rect x="582" y="761" width="18" height="30"/><rect x="606" y="761" width="18" height="30"/><rect x="630" y="757" width="18" height="30"/>
<rect x="508" y="823" width="17" height="30"/><rect x="532" y="823" width="17" height="30"/><rect x="556" y="823" width="17" height="30"/>
<rect x="508" y="866" width="17" height="30"/><rect x="532" y="866" width="17" height="30"/><rect x="556" y="866" width="17" height="30"/><rect x="580" y="842" width="17" height="30"/><rect x="628" y="842" width="17" height="30"/>
<rect x="508" y="908" width="17" height="30"/><rect x="532" y="908" width="17" height="30"/><rect x="556" y="908" width="17" height="30"/><rect x="604" y="888" width="17" height="30"/>
<rect x="508" y="950" width="17" height="32"/><rect x="532" y="950" width="17" height="32"/><rect x="556" y="950" width="17" height="32"/><rect x="580" y="930" width="17" height="30"/><rect x="628" y="930" width="17" height="30"/>
<rect x="174" y="908" width="17" height="30"/><rect x="210" y="908" width="17" height="30"/><rect x="246" y="908" width="17" height="30"/><rect x="281" y="908" width="17" height="30"/><rect x="317" y="908" width="17" height="30"/><rect x="353" y="908" width="17" height="30"/><rect x="389" y="908" width="17" height="30"/><rect x="424" y="908" width="17" height="30"/>
<rect x="162" y="950" width="18" height="33"/><rect x="436" y="950" width="18" height="33"/>
<rect x="315" y="1096" width="17" height="32"/><rect x="342" y="1096" width="17" height="32"/><rect x="369" y="1096" width="17" height="32"/><rect x="397" y="1096" width="17" height="32"/><rect x="433" y="1096" width="17" height="32"/><rect x="460" y="1096" width="17" height="32"/><rect x="488" y="1096" width="17" height="32"/><rect x="515" y="1096" width="17" height="32"/><rect x="543" y="1096" width="17" height="32"/>
<rect x="315" y="1147" width="17" height="32"/><rect x="342" y="1147" width="17" height="32"/><rect x="369" y="1147" width="17" height="32"/><rect x="397" y="1147" width="17" height="32"/><rect x="433" y="1147" width="17" height="32"/><rect x="460" y="1147" width="17" height="32"/><rect x="488" y="1147" width="17" height="32"/><rect x="515" y="1147" width="17" height="32"/>
<rect x="315" y="1198" width="17" height="32"/><rect x="342" y="1198" width="17" height="32"/><rect x="369" y="1198" width="17" height="32"/><rect x="397" y="1198" width="17" height="32"/>
<rect x="315" y="1249" width="17" height="32"/><rect x="342" y="1249" width="17" height="32"/><rect x="369" y="1249" width="17" height="32"/><rect x="397" y="1249" width="17" height="32"/>
<rect x="315" y="1300" width="17" height="32"/><rect x="342" y="1300" width="17" height="32"/><rect x="369" y="1300" width="17" height="32"/><rect x="397" y="1300" width="17" height="32"/>
</g>
<g fill="#8fc0e8">
<rect x="604" y="842" width="17" height="30"/><rect x="580" y="888" width="17" height="30"/><rect x="628" y="888" width="17" height="30"/><rect x="604" y="930" width="17" height="30"/>
<rect x="224" y="1147" width="17" height="32"/><rect x="252" y="1147" width="17" height="32"/><rect x="280" y="1147" width="17" height="32"/>
<rect x="224" y="1198" width="17" height="32"/><rect x="252" y="1198" width="17" height="32"/><rect x="280" y="1198" width="17" height="32"/>
<rect x="224" y="1249" width="17" height="32"/><rect x="252" y="1249" width="17" height="32"/><rect x="280" y="1249" width="17" height="32"/>
<rect x="224" y="1300" width="17" height="32"/><rect x="252" y="1300" width="17" height="32"/><rect x="280" y="1300" width="17" height="32"/>
</g>
<rect x="239" y="1092" width="30" height="36" fill="#f4f4f4"/><rect x="282" y="1096" width="14" height="32" fill="#777"/>
<ellipse cx="165" cy="1155" rx="36" ry="65" fill="#e8b820"/><ellipse cx="155" cy="1178" rx="27" ry="42" fill="#d8404a"/>
<rect x="120" y="1248" width="33" height="65" fill="#2e8a68"/><rect x="163" y="1248" width="33" height="65" fill="#b03a48"/>
<ellipse cx="450" cy="1285" rx="17" ry="38" fill="#1fa070"/><ellipse cx="494" cy="1285" rx="17" ry="38" fill="#b02030"/>
<rect x="540" y="1147" width="18" height="34" fill="#d84858"/>
<ellipse cx="625" cy="1155" rx="20" ry="36" fill="#c8c8b8"/><ellipse cx="552" cy="1295" rx="17" ry="35" fill="#b8b8a8"/><ellipse cx="625" cy="1295" rx="20" ry="38" fill="#b8b8a8"/>
</g>

<!-- Machine tool -->
<g transform="translate(1780,2200) scale(.7015,.336)">
<polygon points="490,470 530,432 548,432 548,770 470,750" fill="#d2d4d6"/>
<polygon points="97,630 150,605 385,530 388,1040 410,1165 250,1110 205,1215 170,1250 95,1190" fill="#e6e3dc"/>
<polygon points="292,490 380,458 432,540 465,540 465,750 520,750 512,1130 470,1200 410,1165 388,1050 388,540 292,555" fill="#2b3138"/>
<polygon points="465,560 520,610 520,750 465,750" fill="#59606a"/>
<path d="M430,470Q440,435 480,435V510H465V540H432Z" fill="#b8babc"/>
<polygon points="92,700 148,688 150,1148 125,1145 95,1120" fill="#0c0d10"/>
<polygon points="104,750 144,740 144,915 105,915" fill="#c8dcee"/>
<rect x="115" y="790" width="20" height="70" fill="#7ca4cc"/>
<polygon points="200,645 250,630 250,1005 205,975" fill="#17181a"/>
<rect x="207" y="850" width="38" height="110" fill="#3c4046"/>
<polygon points="266,625 357,600 355,960 270,1010" fill="#2f2f33"/>
<rect x="357" y="770" width="33" height="142" fill="#f3f3f2"/><rect x="364" y="825" width="16" height="60" fill="#333"/>
<rect x="402" y="590" width="48" height="18" fill="#a83a34"/>
<polygon points="155,810 180,795 190,870 160,890" fill="#60676e"/>
<path class="ns" d="M175,930Q150,1050 165,1190M200,935Q160,1000 200,1120" stroke="#333" stroke-width="2" fill="none"/>
<path class="ns" d="M222,1010V1200L205,1320" stroke="#3a6eb0" stroke-width="3" fill="none"/>
<polygon points="255,1108 405,1165 440,1180 470,1300 455,1322 225,1322 205,1290 205,1110" fill="#1b1d20"/>
<polygon points="275,1228 395,1285 390,1296 275,1245" fill="#c8382a"/>
<rect x="490" y="1150" width="36" height="130" fill="#eceef0"/><rect x="490" y="1215" width="36" height="7" fill="#d44"/>
<!-- pressure sensor -->
<polygon points="866,470 948,462 948,530 866,525" fill="#c8c4bc"/>
<polygon points="866,488 948,485 954,560 868,560" fill="#c0283c"/>
<ellipse cx="912" cy="590" rx="42" ry="92" fill="#2b2c30"/>
<rect x="892" y="562" width="36" height="45" fill="#5e6f64"/>
<rect x="888" y="670" width="42" height="28" fill="#c0283c"/>
<rect x="897" y="698" width="24" height="122" fill="#c5c6c8"/>
<ellipse cx="908" cy="835" rx="24" ry="16" fill="#c9cacc"/>
<path class="ns" d="M958,498L1033,494" stroke="#111" stroke-width="4" fill="none"/>
<!-- force sensor -->
<polygon points="788,935 815,945 870,1010 850,1035 788,990" fill="#e07a36"/>
<polygon points="920,935 1020,1040 1025,1140 935,1320 830,1210 830,1100" fill="#0e0e10"/>
<polygon points="920,935 1020,1040 935,1130 830,1095" fill="#1d1d20"/>
<ellipse cx="885" cy="1135" rx="20" ry="30" fill="#000"/>
<ellipse cx="922" cy="945" rx="7" ry="10" fill="#ddd"/><ellipse cx="1010" cy="1038" rx="12" ry="18" fill="#e4e4e4"/><ellipse cx="845" cy="1078" rx="12" ry="18" fill="#e4e4e4"/><ellipse cx="936" cy="1195" rx="14" ry="35" fill="#dcdcdc"/>
<polygon points="958,985 1000,990 975,1010 952,1005" fill="#000"/>
</g>
<g font-family="Liberation Sans,sans-serif" font-size="8.5" fill="#eee" font-weight="700">
<text x="2397" y="2548" transform="rotate(32 2397 2548)">DYN-C-1000-DE</text>
<text x="2398" y="2561" transform="rotate(32 2398 2561)">SN A-10001</text>
</g>
<text x="1985" y="2422" font-family="Liberation Sans,sans-serif" font-size="11" font-weight="700" fill="#ddd" transform="matrix(-1,0,0,1,3964,0) rotate(14 1985 2422)">MILLTAP 700</text>

<!-- Light arrows -->
<path class="l" d="M1475,371H1556"/><polygon class="lf" points="1555,353 1590,371 1555,391"/>
<path class="l" d="M2255,371H2316"/><polygon class="lf" points="2315,353 2350,371 2315,391"/>
<path class="l" d="M1685,1095H1766"/><polygon class="lf" points="1764,1076 1797,1095 1764,1114"/>
<path class="l" d="M526,1392V1490"/><polygon class="lf" points="506,1487 546,1487 526,1520"/>
<path class="l" d="M2299,2402H2230"/><polygon class="lf" points="2232,2384 2201,2402 2232,2421"/>
<path class="l" d="M2299,2574H2230"/><polygon class="lf" points="2232,2556 2201,2574 2232,2593"/>

<!-- Dark arrows -->
<path class="a" d="M1688.5,594V732"/><polygon class="af" points="1661,729 1716,729 1688.5,776"/>
<path class="a" d="M1073,1058H924"/><polygon class="af" points="926,1030 878,1058 926,1086"/>
<path class="a" d="M2474,1058H2358"/><polygon class="af" points="2360,1030 2302,1058 2360,1086"/>
<path class="a" d="M1688,1384V1478"/><polygon class="af" points="1661,1386 1715,1386 1688,1339"/><polygon class="af" points="1661,1475 1715,1475 1688,1520"/>
<path class="a" style="stroke-width:11;stroke-linecap:butt" d="M924,1797L1030,1802"/><polygon class="af" points="926,1769 926,1825 877,1797"/><polygon class="af" points="1028,1774 1028,1830 1075,1802"/>
<path class="a" d="M525,2088V2434Q525,2454 545,2454H780"/><polygon class="af" points="777,2427 777,2482 825,2454"/>
<path class="a" d="M1269,2454H1746"/><polygon class="af" points="1744,2427 1744,2481 1792,2454"/>
<path class="a" d="M2555,2454H2800Q2820,2454 2820,2434V2124"/><polygon class="af" points="2793,2127 2847,2127 2820,2084"/>
</svg>
</body></html>
